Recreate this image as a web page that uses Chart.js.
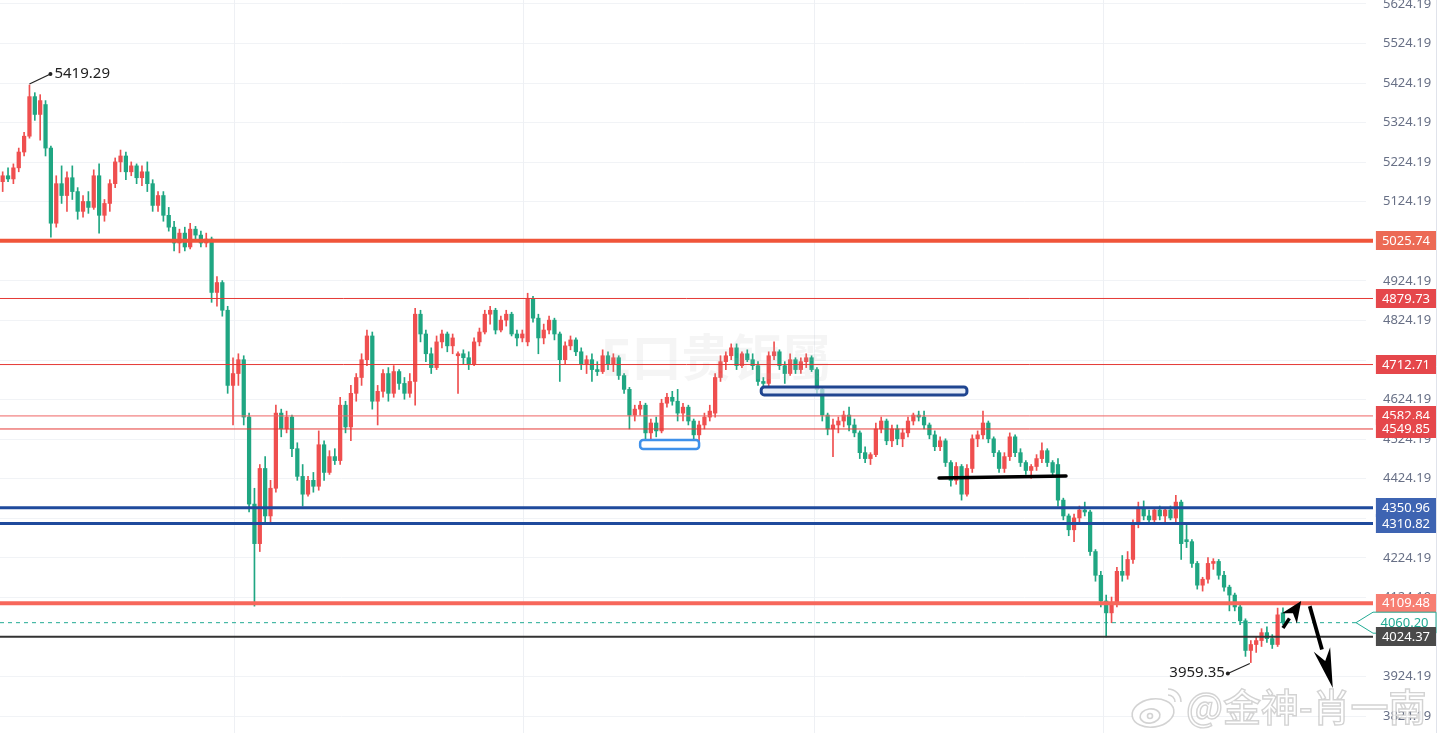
<!DOCTYPE html>
<html>
<head>
<meta charset="utf-8">
<script src="https://cdn.jsdelivr.net/npm/chart.js@4.4.1/dist/chart.umd.min.js"></script>
<style>
html,body{margin:0;padding:0;background:#fff;overflow:hidden;}
#wrap{width:1439px;height:733px;position:relative;}
</style>
</head>
<body>
<div id="wrap"><canvas id="c" width="1439" height="733"></canvas></div>
<script>
// ---------- DATA ----------
const opens = [5175,5190,5182,5210,5250,5290,5390,5345,5370,5260,5070,5170,5140,5185,5150,5100,5125,5110,5190,5090,5120,5170,5225,5240,5200,5215,5185,5200,5170,5115,5140,5090,5060,5020,5045,5010,5055,5040,5020,5030,
4895,4920,4850,4660,4690,4725,4580,4360,4260,4450,4330,4400,4590,4550,4580,4500,4430,4385,4420,4405,4510,4440,4480,4470,4610,4555,4640,4680,4725,4785,
4620,4645,4690,4640,4695,4665,4640,4670,4840,4790,4740,4705,4770,4790,4760,4735,4740,4730,4715,4770,4795,4840,4850,4800,4825,4840,4790,4780,4770,4880,
4830,4780,4800,4825,4790,4725,4760,4775,4745,4715,4725,4700,4695,4735,4715,4730,4685,4650,4585,4600,4610,4540,4565,4545,4615,4630,4620,4590,4605,4570,
4535,4560,4580,4590,4680,4720,4735,4755,4710,4740,4725,4710,4670,4665,4735,4745,4710,4690,4725,4700,4720,4730,4700,4650,4585,4550,4560,4570,4585,4560,
4540,4490,4475,4485,4550,4570,4520,4550,4525,4540,4570,4585,4580,4560,4535,4505,4520,4465,4420,4455,4385,4450,4525,4535,4565,4525,4490,4450,4480,4530,
4490,4465,4445,4455,4475,4495,4465,4460,4370,4330,4295,4325,4345,4340,4240,4180,4115,4085,4110,4190,4180,4220,4310,4350,4330,4320,4345,4330,4345,4325,
4365,4270,4265,4210,4155,4170,4210,4215,4180,4150,4130,4100,4065,3990,4005,4015,4035,4020,4005,4085];
const highs = [5200,5210,5220,5260,5300,5419.29,5400,5395,5380,5265,5190,5215,5200,5215,5160,5140,5150,5205,5220,5130,5180,5235,5255,5250,5225,5220,5215,5225,5180,5150,5150,5110,5075,5055,5060,5070,5062,5050,5045,5035,
4935,4925,4860,4730,4740,4735,4590,4400,4460,4480,4420,4610,4600,4595,4585,4515,4460,4430,4440,4545,4520,4495,4500,4630,4620,4660,4690,4740,4800,4795,
4660,4700,4705,4710,4700,4680,4690,4855,4850,4800,4755,4785,4800,4795,4790,4745,4750,4745,4780,4805,4850,4860,4855,4835,4850,4845,4800,4800,4893,4885,
4840,4815,4835,4830,4795,4770,4785,4780,4755,4735,4740,4720,4750,4745,4740,4735,4690,4655,4610,4620,4615,4575,4580,4625,4640,4645,4650,4615,4610,4575,
4570,4590,4610,4690,4735,4745,4765,4765,4745,4750,4740,4720,4680,4745,4770,4750,4720,4740,4730,4730,4740,4735,4705,4655,4590,4575,4580,4595,4605,4575,
4545,4505,4490,4565,4580,4575,4560,4560,4550,4580,4590,4595,4595,4565,4545,4530,4525,4470,4465,4460,4460,4535,4545,4595,4570,4530,4495,4490,4540,4535,
4500,4470,4460,4485,4515,4500,4470,4475,4375,4335,4335,4355,4365,4345,4245,4190,4130,4125,4200,4230,4240,4320,4365,4368,4345,4350,4355,4350,4355,4382,
4370,4310,4270,4215,4175,4225,4222,4220,4190,4155,4135,4105,4070,4015,4025,4045,4050,4030,4097,4098];
const lows = [5150,5175,5170,5200,5240,5285,5330,5280,5240,5035,5060,5120,5100,5130,5080,5085,5095,5105,5045,5075,5100,5160,5200,5180,5190,5170,5165,5150,5100,5100,5075,5050,5000,4995,5000,5005,5030,5010,5010,4870,
4860,4835,4640,4560,4660,4560,4340,4102,4240,4310,4310,4390,4530,4540,4480,4420,4355,4380,4390,4395,4420,4435,4460,4460,4540,4520,4620,4660,4710,4600,
4560,4630,4620,4630,4650,4625,4630,4610,4770,4720,4690,4700,4755,4745,4740,4640,4715,4700,4710,4760,4790,4815,4790,4795,4810,4785,4760,4770,4760,4820,
4740,4765,4790,4775,4670,4715,4750,4735,4700,4690,4670,4685,4690,4700,4695,4675,4640,4550,4570,4585,4525,4525,4530,4540,4605,4610,4570,4570,4560,4520,
4520,4550,4570,4580,4670,4700,4725,4700,4705,4720,4700,4660,4655,4655,4725,4700,4665,4685,4690,4690,4705,4695,4640,4570,4535,4480,4540,4555,4545,4530,
4475,4465,4460,4480,4540,4510,4505,4510,4505,4530,4560,4570,4550,4525,4495,4495,4455,4405,4410,4370,4380,4440,4505,4525,4515,4480,4440,4440,4470,4480,
4455,4435,4425,4445,4465,4455,4430,4355,4320,4280,4265,4315,4330,4230,4165,4100,4024,4060,4100,4165,4170,4210,4300,4320,4310,4310,4320,4315,4320,4315,
4220,4250,4200,4145,4140,4160,4195,4170,4140,4090,4090,4055,3975,3959.35,3985,4000,4010,3995,4000,4055];
const closes = [5190,5182,5210,5250,5290,5390,5345,5380,5260,5070,5170,5140,5185,5150,5100,5125,5110,5190,5090,5120,5170,5225,5240,5200,5215,5185,5200,5170,5115,5140,5090,5060,5020,5045,5010,5055,5040,5020,5030,4895,
4920,4850,4660,4690,4725,4580,4360,4260,4450,4330,4400,4590,4550,4580,4500,4430,4385,4420,4405,4510,4440,4480,4470,4610,4555,4640,4680,4725,4785,4620,
4645,4690,4640,4695,4665,4640,4670,4840,4790,4740,4705,4770,4790,4760,4780,4740,4730,4715,4770,4795,4840,4850,4800,4825,4840,4790,4780,4790,4880,4830,
4780,4800,4825,4790,4725,4760,4775,4745,4715,4725,4700,4695,4735,4715,4730,4685,4650,4585,4600,4610,4540,4565,4545,4615,4630,4620,4590,4605,4570,4535,
4560,4580,4595,4680,4720,4735,4755,4710,4740,4725,4710,4670,4665,4735,4745,4710,4690,4725,4700,4720,4730,4700,4650,4585,4550,4560,4570,4585,4560,4540,
4490,4475,4485,4550,4570,4520,4550,4525,4540,4570,4585,4580,4560,4535,4505,4520,4465,4420,4455,4385,4450,4525,4535,4565,4525,4490,4450,4480,4530,4490,
4465,4445,4455,4475,4495,4465,4440,4370,4330,4295,4325,4345,4340,4240,4180,4115,4085,4110,4190,4180,4220,4310,4350,4330,4320,4345,4330,4345,4325,4365,
4260,4265,4210,4155,4170,4210,4215,4180,4150,4130,4100,4065,3990,4005,4015,4035,4020,4005,4080,4060.20];
const futureSlots = 15;
const yTicks = [3824.19,3924.19,4024.19,4124.19,4224.19,4324.19,4424.19,4524.19,4624.19,4724.19,4824.19,4924.19,5024.19,5124.19,5224.19,5324.19,5424.19,5524.19,5624.19];
const levels = [5025.74, 4879.73, 4712.71, 4582.84, 4549.85, 4350.96, 4310.82, 4109.48, 4024.37];
const peakHigh = 5419.29, troughLow = 3959.35;
const dayBreaks = [43.2, 97.1, 151.5, 205.4];
// drawn annotations in data coordinates: [index, price]
const lightBox = [[119.0, 4522], [130.0, 4499]];
const navyBox = [[141.6, 4656], [180.0, 4636]];
const blackSeg = [[174.8, 4426], [198.5, 4431]];
const arrowUp = [[239.0, 4047], [242.4, 4115]];
const arrowDown = [[244.0, 4102], [248.3, 3895]];

// ---------- STYLES ----------
const UP = '#ef4f4f', DOWN = '#1fa682';
const levelStyle = [
  {line:'#f0553a', w:4,   box:'#ec6a55'},
  {line:'#e53935', w:1,   box:'#e5474b'},
  {line:'#e53935', w:1,   box:'#e5474b'},
  {line:'#ef6464', w:1,   box:'#e5474b'},
  {line:'#e53935', w:1,   box:'#e5474b'},
  {line:'#1f4a9c', w:3,   box:'#3e64b2'},
  {line:'#1f4a9c', w:3,   box:'#3e64b2'},
  {line:'#f7675b', w:4,   box:'#f77e72'},
  {line:'#333333', w:2,   box:'#4a4a4a'}
];
const FONT = '"Noto Sans", "DejaVu Sans", sans-serif';

const n = closes.length;
const labels = Array.from({length: n + futureSlots}, (_, i) => i);
const colorOf = closes.map((c, i) => c >= opens[i] ? UP : DOWN);

const overlay = {
  id: 'overlay',
  beforeDatasetsDraw(chart) {
    const {ctx, chartArea: a, scales: {x}} = chart;
    ctx.save();
    ctx.strokeStyle = '#eef0f4';
    ctx.lineWidth = 1;
    dayBreaks.forEach(v => {
      const px = Math.round(x.getPixelForValue(v)) + 0.5;
      ctx.beginPath(); ctx.moveTo(px, a.top); ctx.lineTo(px, a.bottom); ctx.stroke();
    });
    ctx.restore();
  },
  afterDraw(chart) {
    const {ctx, chartArea: a, scales: {x, y}} = chart;
    const P = (pt) => [x.getPixelForValue(pt[0]), y.getPixelForValue(pt[1])];
    ctx.save();
    // middle faint watermark
    ctx.font = 'bold 50px "Noto Sans CJK SC"';
    ctx.fillStyle = 'rgba(180,180,180,0.13)';
    ctx.textAlign = 'center'; ctx.textBaseline = 'middle';
    ctx.fillText('E口贵钜屬', 716, 357);

    // level lines
    levels.forEach((v, k) => {
      const s = levelStyle[k];
      const py = y.getPixelForValue(v);
      ctx.strokeStyle = s.line; ctx.lineWidth = s.w;
      ctx.beginPath(); ctx.moveTo(0, py); ctx.lineTo(1373, py); ctx.stroke();
    });
    // current price dashed
    const last = closes[n - 1];
    const ly = y.getPixelForValue(last);
    ctx.setLineDash([4, 4]); ctx.strokeStyle = '#22ab94'; ctx.lineWidth = 1;
    ctx.beginPath(); ctx.moveTo(0, ly); ctx.lineTo(1360, ly); ctx.stroke();
    ctx.setLineDash([]);

    const rbox = (p1, p2, stroke, lw, fill) => {
      const [x1, y1] = P(p1), [x2, y2] = P(p2);
      ctx.beginPath();
      ctx.roundRect(x1, y1, x2 - x1, y2 - y1, 3);
      ctx.fillStyle = fill; ctx.fill();
      ctx.strokeStyle = stroke; ctx.lineWidth = lw; ctx.stroke();
    };
    rbox(lightBox[0], lightBox[1], '#3f91ea', 2.5, 'rgba(255,255,255,0.85)');
    rbox(navyBox[0], navyBox[1], '#1f4590', 3, 'rgba(220,230,245,0.7)');
    {
      const [x1, y1] = P(blackSeg[0]), [x2, y2] = P(blackSeg[1]);
      ctx.strokeStyle = '#000'; ctx.lineWidth = 3.5; ctx.lineCap = 'round';
      ctx.beginPath(); ctx.moveTo(x1, y1); ctx.lineTo(x2, y2); ctx.stroke();
      ctx.lineCap = 'butt';
    }
    const arrow = (p1, p2, L, W, sw) => {
      const [x1, y1] = P(p1), [x2, y2] = P(p2);
      const ang = Math.atan2(y2 - y1, x2 - x1);
      const bx = x2 - L * Math.cos(ang), by = y2 - L * Math.sin(ang);
      ctx.strokeStyle = '#000'; ctx.fillStyle = '#000'; ctx.lineWidth = sw;
      ctx.beginPath(); ctx.moveTo(x1, y1); ctx.lineTo(bx, by); ctx.stroke();
      ctx.beginPath();
      ctx.moveTo(x2, y2);
      ctx.lineTo(bx + W * Math.sin(ang), by - W * Math.cos(ang));
      ctx.lineTo(bx + 0.3 * L * Math.cos(ang), by + 0.3 * L * Math.sin(ang));
      ctx.lineTo(bx - W * Math.sin(ang), by + W * Math.cos(ang));
      ctx.closePath(); ctx.fill();
    };
    arrow(arrowUp[0], arrowUp[1], 21, 9, 3.5);
    arrow(arrowDown[0], arrowDown[1], 40, 8.5, 3.8);

    const iPeak = highs.indexOf(peakHigh), iLow = lows.indexOf(troughLow);
    ctx.strokeStyle = '#222'; ctx.fillStyle = '#222'; ctx.lineWidth = 1.2;
    ctx.font = '15px ' + FONT; ctx.textBaseline = 'middle';
    {
      const px = x.getPixelForValue(iPeak), py = y.getPixelForValue(peakHigh);
      ctx.beginPath(); ctx.moveTo(px, py - 1); ctx.lineTo(px + 21, py - 11); ctx.stroke();
      ctx.beginPath(); ctx.arc(px + 21, py - 11, 2, 0, Math.PI * 2); ctx.fill();
      ctx.textAlign = 'left'; ctx.fillText(peakHigh.toFixed(2), px + 25, py - 11);
    }
    {
      const px = x.getPixelForValue(iLow), py = y.getPixelForValue(troughLow);
      ctx.beginPath(); ctx.moveTo(px - 1, py + 1); ctx.lineTo(px - 23, py + 11); ctx.stroke();
      ctx.beginPath(); ctx.arc(px - 23, py + 11, 2, 0, Math.PI * 2); ctx.fill();
      ctx.textAlign = 'right'; ctx.fillText(troughLow.toFixed(2), px - 26, py + 10);
    }

    ctx.strokeStyle = '#e0e3eb'; ctx.lineWidth = 1;
    ctx.beginPath(); ctx.moveTo(1436.5, 0); ctx.lineTo(1436.5, 733); ctx.stroke();

    ctx.font = '13px ' + FONT; ctx.textAlign = 'center'; ctx.textBaseline = 'middle';
    const boxR = 1436, bh = 19;
    const drawBox = (v, bg) => {
      const py = y.getPixelForValue(v);
      const t = v.toFixed(2);
      const w = Math.max(56, ctx.measureText(t).width + 12);
      ctx.fillStyle = bg;
      ctx.fillRect(boxR - w, Math.round(py - bh / 2), w, bh);
      ctx.fillStyle = '#fff';
      ctx.fillText(t, boxR - w / 2, py + 0.5);
    };
    levels.slice(0, 8).forEach((v, k) => drawBox(v, levelStyle[k].box));
    {
      const t = last.toFixed(2);
      const h = 21, left = 1373, tip = 1356;
      ctx.beginPath();
      ctx.moveTo(tip, ly);
      ctx.lineTo(left, ly - h / 2);
      ctx.lineTo(boxR, ly - h / 2);
      ctx.lineTo(boxR, ly + h / 2);
      ctx.lineTo(left, ly + h / 2);
      ctx.closePath();
      ctx.fillStyle = '#fff'; ctx.fill();
      ctx.strokeStyle = '#22ab94'; ctx.lineWidth = 1; ctx.stroke();
      ctx.fillStyle = '#22ab94';
      ctx.fillText(t, 1404.5, ly + 0.5);
    }
    drawBox(levels[8], levelStyle[8].box);

    // weibo watermark
    ctx.lineWidth = 1.6;
    ctx.strokeStyle = 'rgba(175,175,175,0.55)';
    ctx.fillStyle = 'rgba(255,255,255,0.88)';
    ctx.beginPath(); ctx.ellipse(1153, 713, 21, 14, -0.15, 0, Math.PI * 2); ctx.fill(); ctx.stroke();
    ctx.beginPath(); ctx.ellipse(1150, 716, 10, 7, -0.15, 0, Math.PI * 2); ctx.stroke();
    ctx.beginPath(); ctx.arc(1150, 716, 2.5, 0, Math.PI * 2); ctx.stroke();
    ctx.beginPath(); ctx.arc(1168, 702, 7, -Math.PI / 2, 0); ctx.stroke();
    ctx.beginPath(); ctx.arc(1168, 702, 13, -Math.PI / 2, 0); ctx.stroke();
    ctx.font = '500 38px "Noto Sans CJK SC"';
    ctx.textAlign = 'left'; ctx.textBaseline = 'middle';
    ctx.lineWidth = 1.4;
    ctx.fillText('@金神-肖一南', 1186, 707);
    ctx.strokeText('@金神-肖一南', 1186, 707);
    ctx.restore();
  }
};

new Chart(document.getElementById('c'), {
  type: 'bar',
  data: {
    labels: labels,
    datasets: [
      {
        label: 'wick',
        data: highs.map((h, i) => [lows[i], h]),
        backgroundColor: colorOf,
        barThickness: 1,
        grouped: false,
        order: 2
      },
      {
        label: 'body',
        data: opens.map((o, i) => [o, closes[i]]),
        backgroundColor: colorOf,
        barThickness: 3.6,
        minBarLength: 1,
        grouped: false,
        order: 1
      }
    ]
  },
  options: {
    responsive: false,
    animation: false,
    layout: { padding: 0 },
    plugins: { legend: { display: false }, tooltip: { enabled: false } },
    scales: {
      x: { display: false, offset: true },
      y: {
        position: 'right',
        min: 3781.3,
        max: 5634.3,
        afterBuildTicks: s => { s.ticks = yTicks.map(v => ({ value: v })); },
        afterFit: s => { s.width = 73; s.paddingTop = 0; s.paddingBottom = 0; },
        grid: { color: '#f1f3f6', drawTicks: false },
        border: { display: false },
        ticks: {
          color: '#687086',
          padding: 17,
          crossAlign: 'near',
          font: { family: FONT, size: 13 },
          callback: v => Number(v).toFixed(2)
        }
      }
    }
  },
  plugins: [overlay]
});
</script>
</body>
</html>
